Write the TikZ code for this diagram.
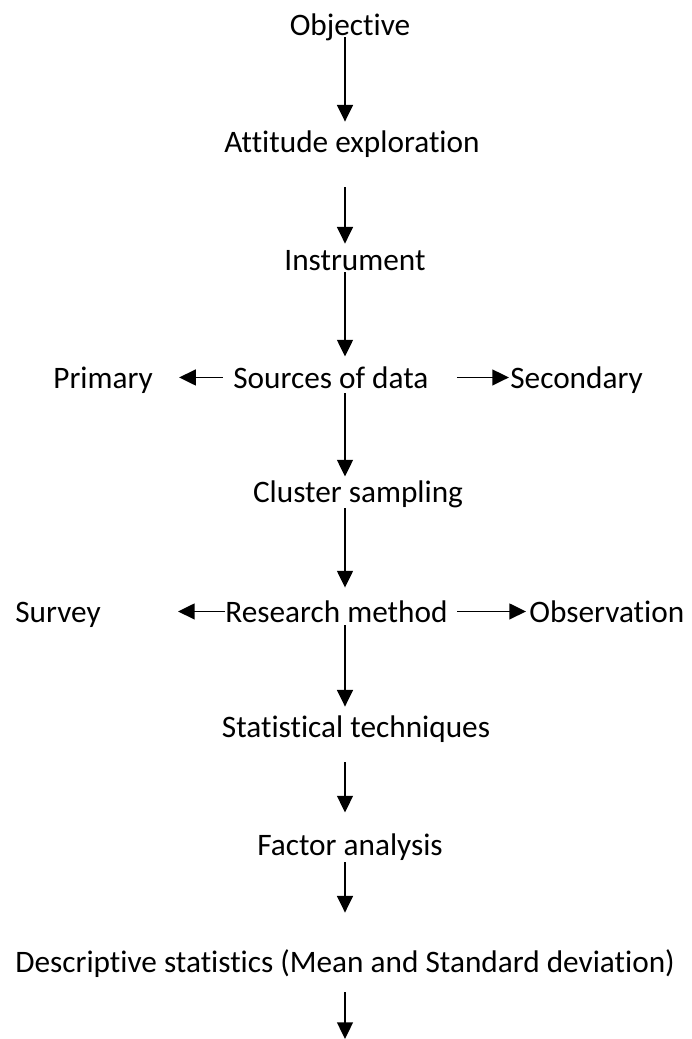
\documentclass[tikz,border=0pt]{standalone}
\usepackage{fontspec}
\setmainfont{Carlito}[Ligatures=NoCommon]
\usetikzlibrary{arrows.meta}
\tikzset{
  lbl/.style={inner sep=0pt, anchor=base, text height=12pt, text depth=0pt,
    font=\fontsize{17.8pt}{20pt}\selectfont},
  flow/.style={line width=1.1pt, -{Triangle[length=9.5pt,width=9pt]}},
}
\begin{document}
\begin{tikzpicture}[x=0.02cm,y=-0.02cm]
  \useasboundingbox (0,0) rectangle (691,1039);
  \coordinate (spine) at (345,0);
  % Main column
  \node[lbl] (obj) at (350,35) {Objective};
  \node[lbl] (att) at (352,152) {Attitude exploration};
  \node[lbl] (ins) at (355,270) {Instrument};
  \node[lbl, anchor=base west] (src) at (233,388) {Sources of data};
  \node[lbl] (clu) at (358,502) {Cluster sampling};
  \node[lbl, anchor=base west] (res) at (225,622) {Research method};
  \node[lbl] (sta) at (356,737) {Statistical techniques};
  \node[lbl] (fac) at (350,855) {Factor analysis};
  \node[lbl, anchor=base west] (des) at (15,972) {Descriptive statistics (Mean and Standard deviation)};
  \coordinate (end) at (345,1039);
  % Side branches
  \node[lbl, anchor=base west] (pri) at (53,388) {Primary};
  \node[lbl, anchor=base west] (sec) at (510,388) {Secondary};
  \node[lbl, anchor=base west] (sur) at (15,622) {Survey};
  \node[lbl, anchor=base west] (obs) at (529,622) {Observation};
  % Downward arrows
  \draw[flow, shorten <=1.1pt, shorten >=5.1pt] (obj.south -| spine) -- (att.north -| spine);
  \draw[flow, shorten <=19.9pt, shorten >=2.8pt] (att.south -| spine) -- (ins.north -| spine);
  \draw[flow, shorten <=1.1pt, shorten >=5.7pt] (ins.south -| spine) -- (src.north -| spine);
  \draw[flow, shorten <=2.8pt, shorten >=2.3pt] (src.south -| spine) -- (clu.north -| spine);
  \draw[flow, shorten <=3.4pt, shorten >=7.4pt] (clu.south -| spine) -- (res.north -| spine);
  \draw[flow, shorten <=1.7pt, shorten >=5.1pt] (res.south -| spine) -- (sta.north -| spine);
  \draw[flow, shorten <=14.2pt, shorten >=12pt] (sta.south -| spine) -- (fac.north -| spine);
  \draw[flow, shorten <=4pt, shorten >=21.6pt] (fac.south -| spine) -- (des.north -| spine);
  \draw[flow, shorten <=11.4pt] (des.south -| spine) -- (end);
  % Sideways arrows
  \draw[flow, shorten <=5.7pt, shorten >=14.8pt] (src.west) -- (pri.east);
  \draw[flow, shorten <=15.9pt, shorten >=0.6pt] (src.east) -- (sec.west);
  \draw[flow, shorten >=43.8pt] (res.west) -- (sur.east);
  \draw[flow, shorten <=5.4pt, shorten >=1.7pt] (res.east) -- (obs.west);
\end{tikzpicture}
\end{document}
